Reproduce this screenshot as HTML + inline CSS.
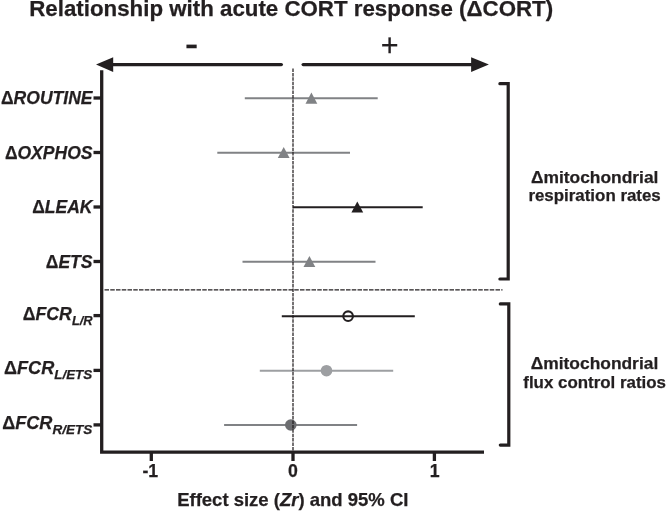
<!DOCTYPE html>
<html><head><meta charset="utf-8">
<style>
html,body{margin:0;padding:0;background:#fff;}
svg{display:block;font-family:"Liberation Sans",sans-serif;font-weight:bold;fill:#231f20;}
text{stroke:#231f20;stroke-width:0.25px;}
.it{font-style:italic;}
</style></head>
<body>
<svg width="666" height="511" viewBox="0 0 666 511">
<rect width="666" height="511" fill="#fff"/>
<!-- title -->
<text x="291.2" y="16" font-size="22.3" text-anchor="middle">Relationship with acute CORT response (ΔCORT)</text>
<!-- signs -->
<text x="184.8" y="57.4" font-size="41" font-weight="normal">-</text>
<text x="380.7" y="56.2" font-size="30.5" font-weight="normal">+</text>
<!-- arrows -->
<g stroke="#231f20" stroke-width="3.4" stroke-linecap="round" fill="none">
<line x1="110" y1="64.6" x2="281.3" y2="64.6"/>
<line x1="303.2" y1="64.6" x2="475" y2="64.6"/>
</g>
<polygon points="96,64.6 113.2,57.3 113.2,71.9"/>
<polygon points="488.9,64.6 471.1,57.3 471.1,71.9"/>
<!-- axes -->
<g stroke="#231f20" stroke-width="3.3" fill="none">
<polyline points="101.7,70.3 101.7,452.1 484,452.1"/>
<g stroke-width="3.3">
<line x1="151.3" y1="452" x2="151.3" y2="461"/>
<line x1="293" y1="452" x2="293" y2="461"/>
<line x1="434.4" y1="452" x2="434.4" y2="461"/>
<line x1="93.5" y1="98" x2="101" y2="98"/>
<line x1="93.5" y1="152.5" x2="101" y2="152.5"/>
<line x1="93.5" y1="207" x2="101" y2="207"/>
<line x1="93.5" y1="261.5" x2="101" y2="261.5"/>
<line x1="93.5" y1="315.6" x2="101" y2="315.6"/>
<line x1="93.5" y1="370.4" x2="101" y2="370.4"/>
<line x1="93.5" y1="424.9" x2="101" y2="424.9"/>
</g>
</g>
<!-- brackets -->
<g stroke="#231f20" stroke-width="3.2" fill="none" stroke-linecap="round" stroke-linejoin="miter">
<polyline points="499.9,83.7 508.2,83.7 508.2,279 499.9,279"/>
<polyline points="500.3,303.9 508.8,303.9 508.8,445.1 500.3,445.1"/>
</g>
<!-- CI lines -->
<g stroke-width="2.1" fill="none">
<line x1="244.8" y1="98.2" x2="377.7" y2="98.2" stroke="#808285"/>
<line x1="217.3" y1="152.7" x2="350" y2="152.7" stroke="#808285"/>
<line x1="293" y1="207.2" x2="422.7" y2="207.2" stroke="#231f20"/>
<line x1="242.5" y1="261.7" x2="375.5" y2="261.7" stroke="#808285"/>
<line x1="281.8" y1="316.2" x2="414.8" y2="316.2" stroke="#231f20"/>
<line x1="259.8" y1="370.7" x2="393.2" y2="370.7" stroke="#9d9fa2"/>
<line x1="224.1" y1="425" x2="357.1" y2="425" stroke="#808285"/>
</g>
<!-- markers -->
<polygon points="311.4,92.6 317.3,103.8 305.5,103.8" fill="#808285"/>
<polygon points="283.7,146.9 289.6,158 277.8,158" fill="#808285"/>
<polygon points="357.3,201.5 363.2,212.6 351.4,212.6" fill="#231f20"/>
<polygon points="309.4,256 315.3,267.1 303.5,267.1" fill="#808285"/>
<circle cx="348.1" cy="316.2" r="4.8" fill="none" stroke="#231f20" stroke-width="2.1"/>
<circle cx="326.5" cy="370.7" r="5.8" fill="#9d9fa2"/>
<circle cx="290.8" cy="425" r="5.8" fill="#6d6e71"/>
<!-- dashed -->
<g stroke="#231f20" fill="none">
<line x1="293" y1="68.5" x2="293" y2="450.5" stroke-width="1.25" stroke-dasharray="3.5,0.9"/>
<line x1="104.5" y1="289.85" x2="502.5" y2="289.85" stroke-width="1.25" stroke-dasharray="4.5,1.25"/>
</g>
<!-- y labels -->
<g font-size="17.55" text-anchor="end">
<text x="92.5" y="104.3">Δ<tspan class="it">ROUTINE</tspan></text>
<text x="92.5" y="158.8">Δ<tspan class="it">OXPHOS</tspan></text>
<text x="92.5" y="213.3">Δ<tspan class="it">LEAK</tspan></text>
<text x="92.5" y="267.5">Δ<tspan class="it">ETS</tspan></text>
<text x="92.5" y="319.8" font-size="17.7">Δ<tspan class="it">FCR</tspan><tspan class="it" font-size="12.8" dy="4.8">L/R</tspan></text>
<text x="92.2" y="374.1" font-size="18.1">Δ<tspan class="it">FCR</tspan><tspan class="it" font-size="13.4" dy="4.8">L/ETS</tspan></text>
<text x="92.2" y="428.7" font-size="18.1">Δ<tspan class="it">FCR</tspan><tspan class="it" font-size="13.5" dy="4.8">R/ETS</tspan></text>
</g>
<!-- x tick labels -->
<g font-size="17.7" text-anchor="middle">
<text x="150.3" y="477.2">-1</text>
<text x="292.9" y="477.2">0</text>
<text x="434.6" y="477.2">1</text>
</g>
<text x="292.8" y="505.7" font-size="18.5" text-anchor="middle">Effect size (<tspan class="it">Zr</tspan>) and 95% CI</text>
<!-- right labels -->
<g text-anchor="middle">
<text x="594.7" y="182.6" font-size="17.4">Δmitochondrial</text>
<text x="594.6" y="201.1" font-size="16.9">respiration rates</text>
<text x="594.5" y="369.2" font-size="17.4">Δmitochondrial</text>
<text x="594.6" y="388" font-size="16.9">flux control ratios</text>
</g>
</svg>
</body></html>
